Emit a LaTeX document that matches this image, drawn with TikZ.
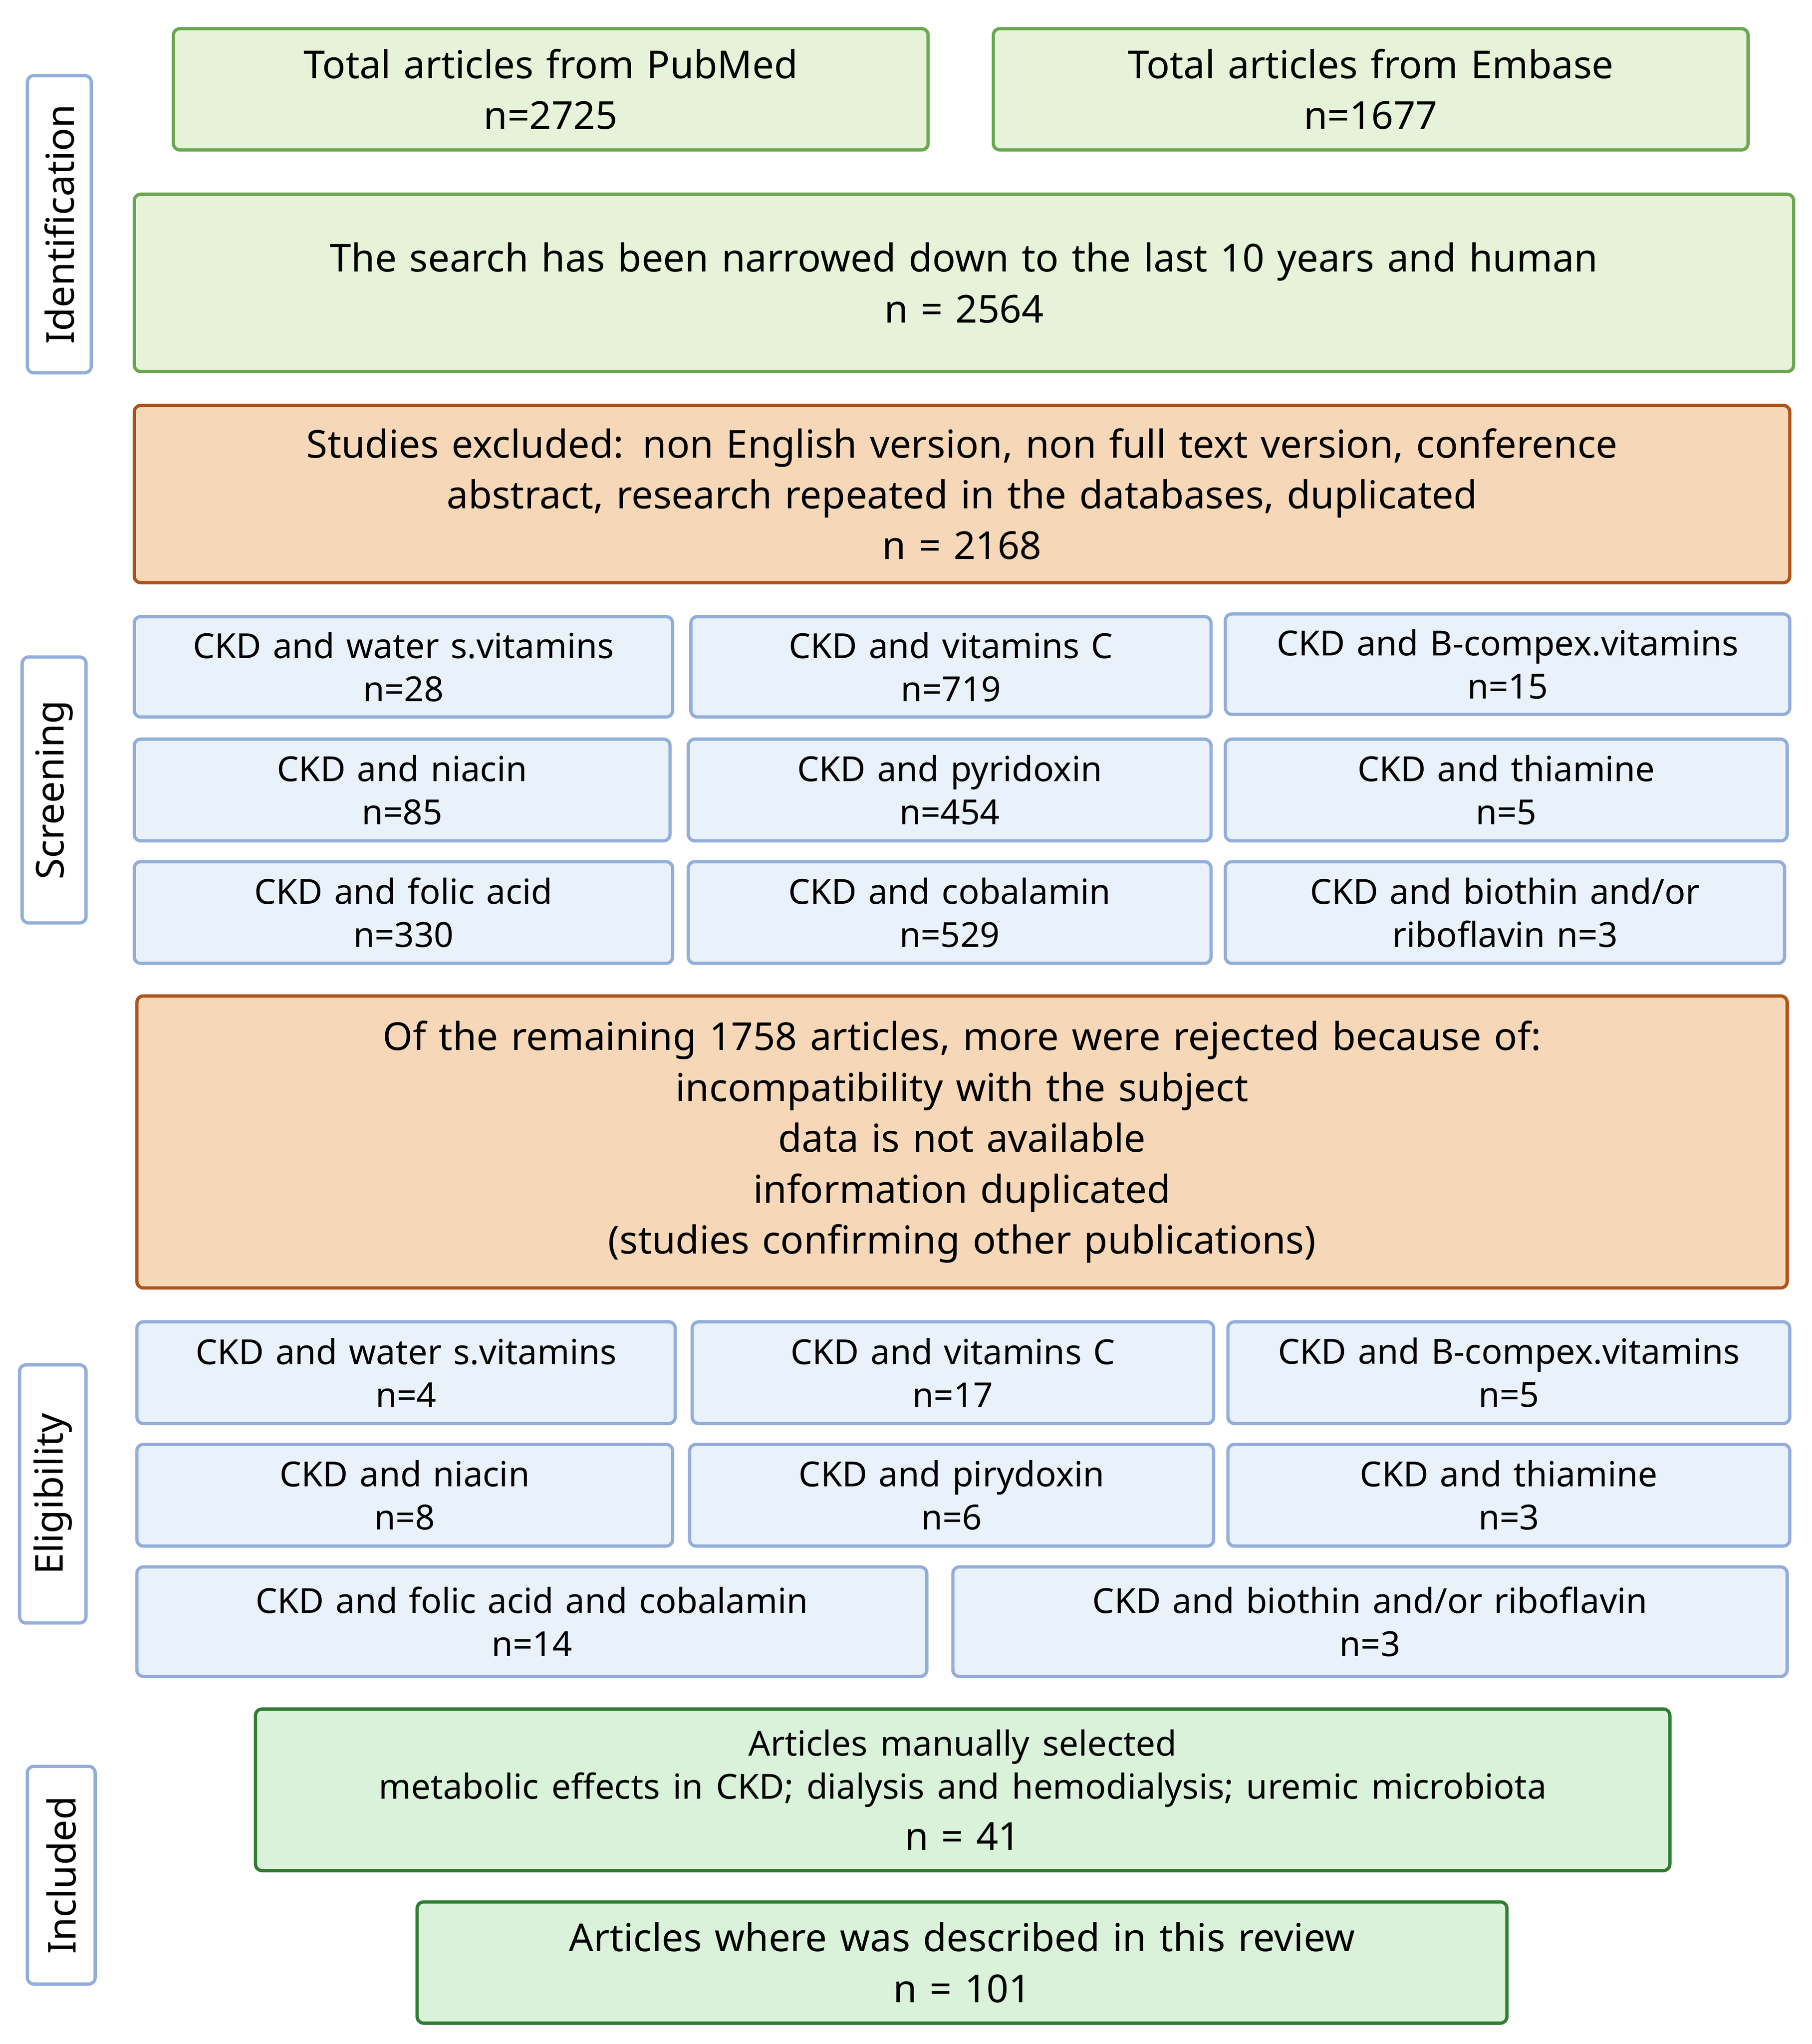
\documentclass[tikz,border=0pt]{standalone}
\usepackage{fontspec}
\setmainfont{Noto Sans}
\definecolor{gfill}{HTML}{E6F3D8}\definecolor{gline}{HTML}{6AA84F}
\definecolor{ofill}{HTML}{F6D8B8}\definecolor{oline}{HTML}{B0521C}
\definecolor{bfill}{HTML}{E9F1FB}\definecolor{bline}{HTML}{93AEDB}
\definecolor{ifill}{HTML}{D9F2D9}\definecolor{iline}{HTML}{2E7D32}
\newcommand{\bx}[7]{\node[#6,minimum width={(#4-#2)*1pt},minimum height={(#5-#3)*1pt},text width={(#4-#2-16)*1pt}] (#1) at ({(#2+#4)/2},{-(#3+#5)/2}) {#7};}
\begin{document}
\begin{tikzpicture}[x=1pt,y=1pt,
 base/.style={draw,rounded corners=5pt,line width=2.5pt,align=center,inner sep=0pt,font=\fontsize{29.5}{39}\selectfont},
 gb/.style={base,fill=gfill,draw=gline},
 ob/.style={base,fill=ofill,draw=oline},
 bb/.style={base,fill=bfill,draw=bline,font=\fontsize{26.5}{33}\selectfont},
 ib/.style={base,fill=ifill,draw=iline},
 side/.style={draw=bline,fill=white,rounded corners=5pt,line width=2.5pt,rotate=90,inner sep=0pt,font=\fontsize{29.5}{34}\selectfont}]
\useasboundingbox (0,0) rectangle (1390,-1568);
\bx{pub}{133}{22}{712}{115}{gb}{Total articles from PubMed\\n=2725}
\bx{emb}{762}{22}{1341}{115}{gb}{Total articles from Embase\\n=1677}
\bx{nar}{103}{149}{1376}{285}{gb}{The search has been narrowed down to the last 10 years and human\\n = 2564}
\bx{exc}{103}{311}{1373}{447}{ob}{Studies excluded: non English version, non full text version, conference\\abstract, research repeated in the databases, duplicated\\n = 2168}
\bx{s1}{103}{473}{516}{550}{bb}{CKD and water s.vitamins\\n=28}
\bx{s2}{530}{473}{929}{550}{bb}{CKD and vitamins C\\n=719}
\bx{s3}{940}{471}{1373}{548}{bb}{CKD and B-compex.vitamins\\n=15}
\bx{s4}{103}{567}{514}{645}{bb}{CKD and niacin\\n=85}
\bx{s5}{528}{567}{929}{645}{bb}{CKD and pyridoxin\\n=454}
\bx{s6}{940}{567}{1371}{645}{bb}{CKD and thiamine\\n=5}
\bx{s7}{103}{661}{516}{739}{bb}{CKD and folic acid\\n=330}
\bx{s8}{528}{661}{929}{739}{bb}{CKD and cobalamin\\n=529}
\bx{s9}{940}{661}{1369}{739}{bb}{CKD and biothin and/or\\riboflavin n=3}
\bx{rem}{105}{764}{1371}{988}{ob}{Of the remaining 1758 articles, more were rejected because of:\\incompatibility with the subject\\data is not available\\information duplicated\\(studies confirming other publications)}
\bx{e1}{105}{1014}{518}{1092}{bb}{CKD and water s.vitamins\\n=4}
\bx{e2}{531}{1014}{931}{1092}{bb}{CKD and vitamins C\\n=17}
\bx{e3}{942}{1014}{1373}{1092}{bb}{CKD and B-compex.vitamins\\n=5}
\bx{e4}{105}{1108}{516}{1186}{bb}{CKD and niacin\\n=8}
\bx{e5}{529}{1108}{931}{1186}{bb}{CKD and pirydoxin\\n=6}
\bx{e6}{942}{1108}{1373}{1186}{bb}{CKD and thiamine\\n=3}
\bx{e7}{105}{1202}{711}{1286}{bb}{CKD and folic acid and cobalamin\\n=14}
\bx{e8}{731}{1202}{1371}{1286}{bb}{CKD and biothin and/or riboflavin\\n=3}
\bx{in1}{196}{1311}{1281}{1435}{ib}{{\fontsize{26.5}{33}\selectfont Articles manually selected\\metabolic effects in CKD; dialysis and hemodialysis; uremic microbiota\\}n = 41}
\bx{in2}{320}{1459}{1156}{1552}{ib}{Articles where was described in this review\\n = 101}
\node[side,minimum width=228pt,minimum height=49pt] (lid) at (45.5,-172) {Identification};
\node[side,minimum width=204pt,minimum height=49pt] (lsc) at (41.5,-606) {Screening};
\node[side,minimum width=198pt,minimum height=51pt] (lel) at (40.5,-1146) {Eligibility};
\node[side,minimum width=167pt,minimum height=52pt] (lin) at (47,-1438.5) {Included};
\end{tikzpicture}
\end{document}
